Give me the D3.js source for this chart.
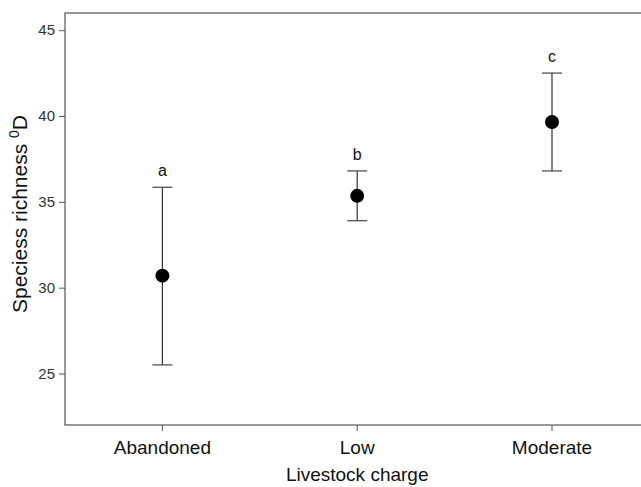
<!DOCTYPE html>
<html>
<head>
<meta charset="utf-8">
<script src="https://cdn.jsdelivr.net/npm/d3@7"></script>
<style>
  body { margin: 0; background: #fff; }
  svg { display: block; font-family: "Liberation Sans", Arial, sans-serif; }
</style>
</head>
<body>
<svg id="chart" width="641" height="487"></svg>
<script>
// data
const categories = ["Abandoned", "Low", "Moderate"];
const means = [30.7, 35.35, 39.65];
const upper = [35.85, 36.8, 42.5];
const lower = [25.5, 33.9, 36.8];
const letters = ["a", "b", "c"];
const yTicks = [25, 30, 35, 40, 45];

const svg = d3.select("#chart");
const plotLeft = 65, plotTop = 13, plotBottom = 425;
const step = 194.8;

// x: each category centered in its own band
const x = d3.scaleBand()
    .domain(categories)
    .range([plotLeft, plotLeft + step * categories.length])
    .padding(0);

const y = d3.scaleLinear()
    .domain([22, 46])
    .range([plotBottom, plotTop]);

// frame (right side runs off the picture)
svg.append("rect")
    .attr("x", plotLeft)
    .attr("y", plotTop)
    .attr("width", step * categories.length)
    .attr("height", plotBottom - plotTop)
    .attr("fill", "none")
    .attr("stroke", "#555")
    .attr("stroke-width", 1.2);

// y axis
const yAxis = svg.append("g")
    .attr("transform", `translate(${plotLeft},0)`)
    .call(d3.axisLeft(y).tickValues(yTicks).tickSize(6).tickPadding(4));
yAxis.select(".domain").remove();
yAxis.selectAll("line").attr("stroke", "#555");
yAxis.selectAll("text")
    .attr("fill", "#333")
    .style("font-size", "15px")
    .style("font-family", "Liberation Sans, Arial, sans-serif");

// x axis
const xAxis = svg.append("g")
    .attr("transform", `translate(0,${plotBottom})`)
    .call(d3.axisBottom(x).tickSize(6).tickPadding(10));
xAxis.select(".domain").remove();
xAxis.selectAll("line").attr("stroke", "#555");
xAxis.selectAll("text")
    .attr("fill", "#111")
    .style("font-size", "19px")
    .style("font-family", "Liberation Sans, Arial, sans-serif");

// axis titles
svg.append("text")
    .attr("x", plotLeft + 1.5 * step)
    .attr("y", 481)
    .attr("text-anchor", "middle")
    .attr("fill", "#111")
    .style("font-size", "19px")
    .text("Livestock charge");

const yt = svg.append("text")
    .attr("transform", "translate(27,214) rotate(-90)")
    .attr("text-anchor", "middle")
    .attr("fill", "#111")
    .style("font-size", "21px");
yt.append("tspan").text("Speciess richness ");
yt.append("tspan").attr("dy", -8).style("font-size", "14px").text("0");
yt.append("tspan").attr("dy", 8).text("D");

// error bars
const g = svg.append("g");
const cap = 10;
categories.forEach((c, i) => {
    const cx = x(c) + x.bandwidth() / 2;
    g.append("line")
        .attr("x1", cx).attr("x2", cx)
        .attr("y1", y(lower[i])).attr("y2", y(upper[i]))
        .attr("stroke", "#333").attr("stroke-width", 1.2);
    [upper[i], lower[i]].forEach(v => {
        g.append("line")
            .attr("x1", cx - cap).attr("x2", cx + cap)
            .attr("y1", y(v)).attr("y2", y(v))
            .attr("stroke", "#444").attr("stroke-width", 1.2);
    });
    g.append("circle")
        .attr("cx", cx).attr("cy", y(means[i]))
        .attr("r", 7)
        .attr("fill", "#000");
    g.append("text")
        .attr("x", cx).attr("y", y(upper[i]) - 11)
        .attr("text-anchor", "middle")
        .attr("fill", "#111")
        .style("font-size", "16px")
        .text(letters[i]);
});
</script>
</body>
</html>
